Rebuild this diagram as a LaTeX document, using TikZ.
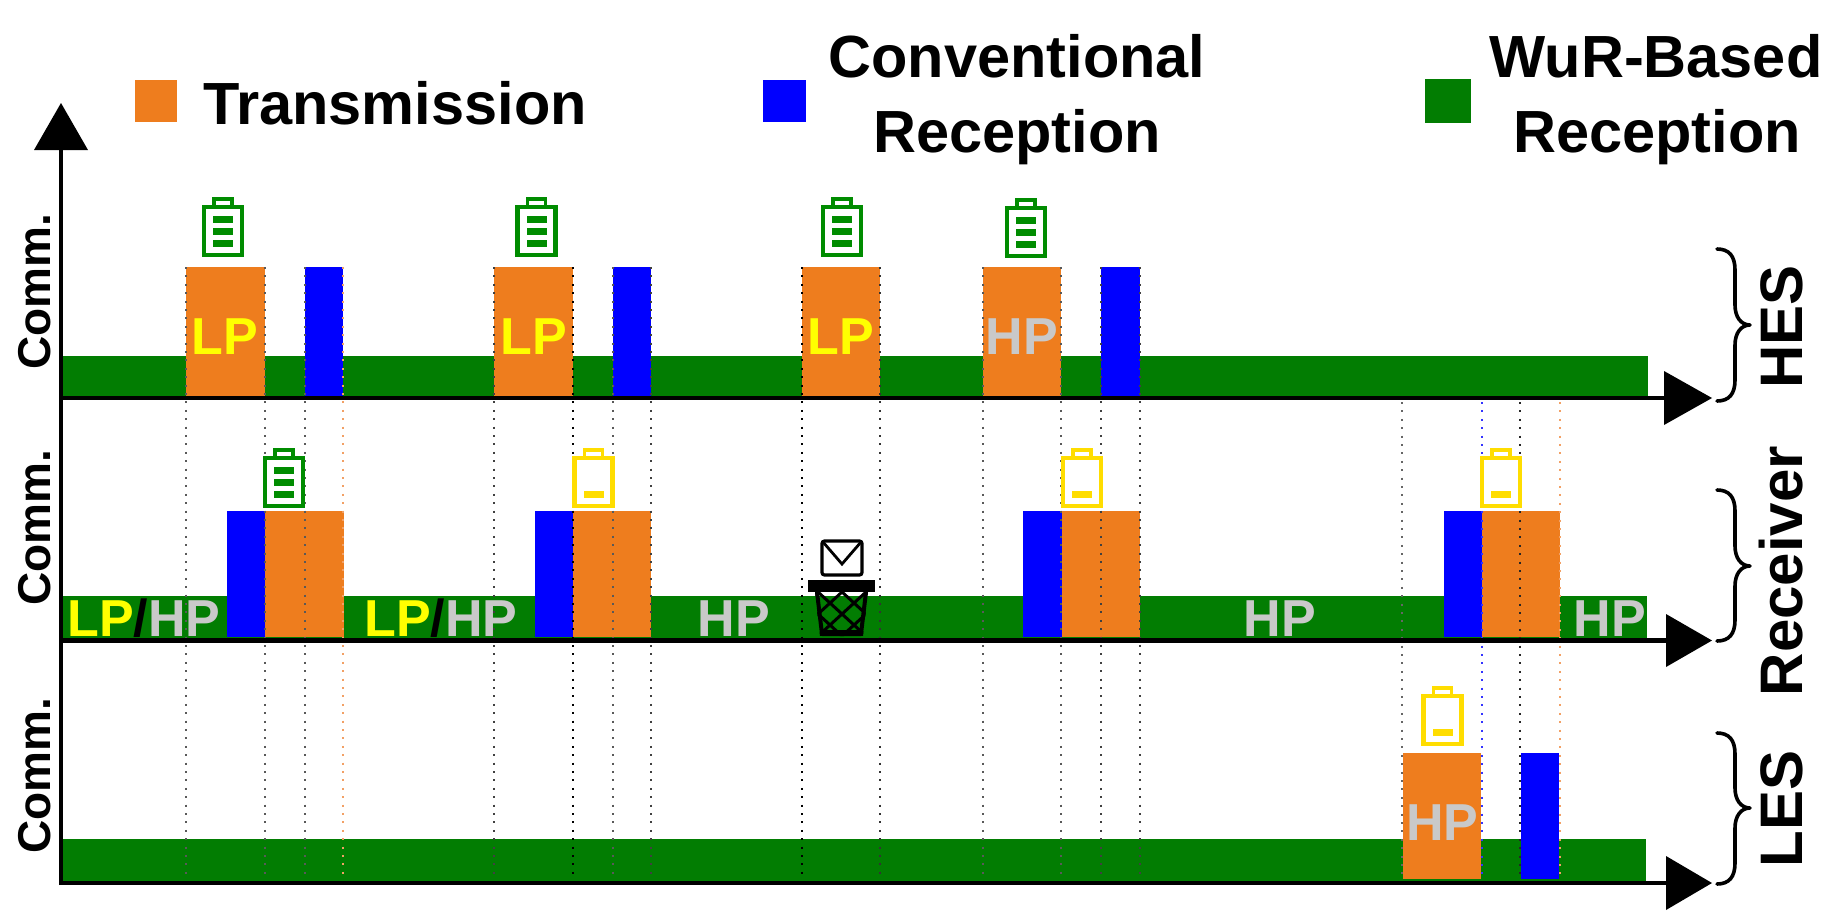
\documentclass[tikz,border=0pt]{standalone}
\usepackage{fontspec}
\setmainfont{Liberation Sans}
\definecolor{txorange}{HTML}{EE7D1E}
\definecolor{rxblue}{HTML}{0000FF}
\definecolor{wugreen}{HTML}{027D02}
\definecolor{battgreen}{HTML}{008C00}
\definecolor{battyellow}{HTML}{FFDD00}
\definecolor{hpgray}{HTML}{C9C9C9}
\definecolor{lpyellow}{HTML}{FFFF00}
\definecolor{guideorange}{HTML}{F2A065}
\newcommand{\battery}[4]{% x, body bottom y, colour, y-offsets of level bars
  \draw[line width=4.4pt,#3] (#1-19,#2-2.2) rectangle (#1+19,#2-49.8);
  \draw[line width=3.8pt,#3] (#1-9,#2-51) -- (#1-9,#2-58.2) -- (#1+9,#2-58.2) -- (#1+9,#2-51);
  \foreach \lv in {#4}{\fill[#3] (#1-10,#2-\lv) rectangle (#1+10,#2-\lv+7);}
}
\newcommand{\groupbrace}[3]{% top, tip, bottom y
  \draw[line width=3.6pt,line cap=round,line join=round]
    (1717,#1+1) .. controls (1729,#1+1) and (1735,#1+8) .. (1735,#1+22)
    -- (1735,#2-20) .. controls (1735,#2-8) and (1741,#2) .. (1750,#2)
    .. controls (1741,#2) and (1735,#2+8) .. (1735,#2+20)
    -- (1735,#3-22) .. controls (1735,#3-8) and (1729,#3-1) .. (1717,#3-1);
}
\tikzset{
  x=1pt,y=-1pt,
  axisline/.style={line width=4.6pt,black},
  arrowtip/.style={fill=black},
  legendtext/.style={inner sep=0pt,font=\fontsize{59.5}{70}\selectfont\bfseries,align=center,anchor=base},
  commtext/.style={inner sep=0pt,rotate=90,anchor=base,font=\fontsize{46}{46}\selectfont\bfseries},
  grouptext/.style={inner sep=0pt,rotate=90,anchor=base,font=\fontsize{60}{60}\selectfont\bfseries},
  lplabel/.style={inner sep=0pt,anchor=base,text=lpyellow,font=\fontsize{52}{52}\selectfont\bfseries},
  hplabel/.style={inner sep=0pt,anchor=base,text=hpgray,font=\fontsize{52}{52}\selectfont\bfseries},
  mixlabel/.style={inner sep=0pt,anchor=base,font=\fontsize{52}{52}\selectfont\bfseries},
  guide/.style={line width=2pt,dash pattern=on 2pt off 6.4pt},
}
\begin{document}
\begin{tikzpicture}
\useasboundingbox (0,0) rectangle (1839,922);
\fill[white] (0,0) rectangle (1839,922);
% legend
\fill[txorange] (135,80) rectangle (177,122);
\node[legendtext] (ltx) at (395,124) {Transmission};
\fill[rxblue] (763,80) rectangle (806,122);
\node[legendtext,anchor=base] (lrx1) at (1017,77) {Conventional};
\node[legendtext,anchor=base] (lrx2) at (1017,152) {Reception};
\fill[wugreen] (1425,79) rectangle (1471,123);
\node[legendtext,anchor=base] (lwu1) at (1656,77) {WuR-Based};
\node[legendtext,anchor=base] (lwu2) at (1657,152) {Reception};
% row 1 bars
\fill[wugreen] (61,356) rectangle (1648,396);
\foreach \a/\b in {186/265,494/573,802/880,983/1061}{\fill[txorange] (\a,267) rectangle (\b,396);}
\foreach \a/\b in {305/343,613/651,1101/1140}{\fill[rxblue] (\a,267) rectangle (\b,396);}
% row 2 bars
\fill[wugreen] (61,596) rectangle (1647,638);
\foreach \a/\b in {227/265,535/573,1023/1062,1444/1482}{\fill[rxblue] (\a,511) rectangle (\b,637);}
\foreach \a/\b in {265/344,573/651,1062/1140,1482/1560}{\fill[txorange] (\a,511) rectangle (\b,637);}
% row 3 bars
\fill[wugreen] (61,839) rectangle (1646,881);
\fill[txorange] (1403,753) rectangle (1481,879);
\fill[rxblue] (1521,753) rectangle (1559,879);
% guides
\foreach \x/\c in {186/black!65,265/black!65,305/black!65,343/guideorange,
    494/black!75,573/black,613/black!65,651/black!75,802/black,880/black!80,
    983/black!65,1061/black!65,1101/black!75,1140/black!75}{
  \draw[guide,\c] (\x,267) -- (\x,879);}
\foreach \x/\c in {1402/black!60,1482/rxblue!80,1520/black!85,1560/guideorange}{
  \draw[guide,\c] (\x,402) -- (\x,882);}
% batteries
\battery{223}{257}{battgreen}{17,29,41}
\battery{536.5}{257}{battgreen}{17,29,41}
\battery{842}{257}{battgreen}{17,29,41}
\battery{1026}{258}{battgreen}{17,29,41}
\battery{284}{508}{battgreen}{17,29,41}
\battery{593.5}{508}{battyellow}{17}
\battery{1082}{508}{battyellow}{17}
\battery{1501}{508}{battyellow}{17}
\battery{1442.5}{746}{battyellow}{17}
% envelope and basket
\draw[line width=3.2pt,rounded corners=2.5pt,fill=white] (822,541) rectangle (862,575);
\draw[line width=2.8pt] (823,542) -- (842,564) -- (861,542);
\begin{scope}
  \clip (815,592) -- (868,592) -- (863,636) -- (820,636) -- cycle;
  \foreach \d in {-72,-48,...,72}{
    \draw[line width=3pt,black] (842+\d-24,592) -- (842+\d+24,636);
    \draw[line width=3pt,black] (842+\d+24,592) -- (842+\d-24,636);
  }
\end{scope}
\draw[line width=4pt,line join=round] (817,592) -- (822,634) -- (861,634) -- (866,592);
\fill[black] (808,580) rectangle (875,592);
\fill[black] (820,630) -- (863,630) -- (863,636) -- (820,636) -- cycle;
% axes
\coordinate (org) at (61,885);
\coordinate (ytop) at (61,148);
\draw[axisline] (org) -- (ytop);
\fill[arrowtip] (61,103) -- (88,150) -- (34,150) -- cycle;
\draw[axisline] (59,398) -- (1666,398);
\fill[arrowtip] (1664,371) -- (1712,398) -- (1664,425) -- cycle;
\draw[axisline] (59,640.5) -- (1666,640.5);
\fill[arrowtip] (1666,614) -- (1712,640.5) -- (1666,667) -- cycle;
\draw[axisline,line width=3.6pt] (59,883) -- (1666,883);
\fill[arrowtip] (1666,856) -- (1712,883) -- (1666,910) -- cycle;
% axis labels
\node[commtext] (c1) at (50,292) {Comm.};
\node[commtext] (c2) at (50,528) {Comm.};
\node[commtext] (c3) at (50,776) {Comm.};
% bar labels
\node[lplabel] (l1) at (224.5,354) {LP};
\node[lplabel] (l2) at (534,354) {LP};
\node[lplabel] (l3) at (841,354) {LP};
\node[hplabel] (h1) at (1022,354) {HP};
\node[mixlabel] (m1) at (144,636) {\textcolor{lpyellow}{LP}\textcolor{black}{/}\textcolor{hpgray}{HP}};
\node[mixlabel] (m2) at (441,636) {\textcolor{lpyellow}{LP}\textcolor{black}{/}\textcolor{hpgray}{HP}};
\node[hplabel] (h2) at (734,636) {HP};
\node[hplabel] (h3) at (1280,636) {HP};
\node[hplabel] (h4) at (1610,636) {HP};
\node[hplabel] (h5) at (1442.5,840) {HP};
% braces and group labels
\groupbrace{248}{325}{402}
\groupbrace{489}{566}{642}
\groupbrace{732}{808}{885}
\node[grouptext] (g1) at (1802,327) {HES};
\node[grouptext] (g2) at (1802,571) {Receiver};
\node[grouptext] (g3) at (1802,809) {LES};
\end{tikzpicture}
\end{document}
